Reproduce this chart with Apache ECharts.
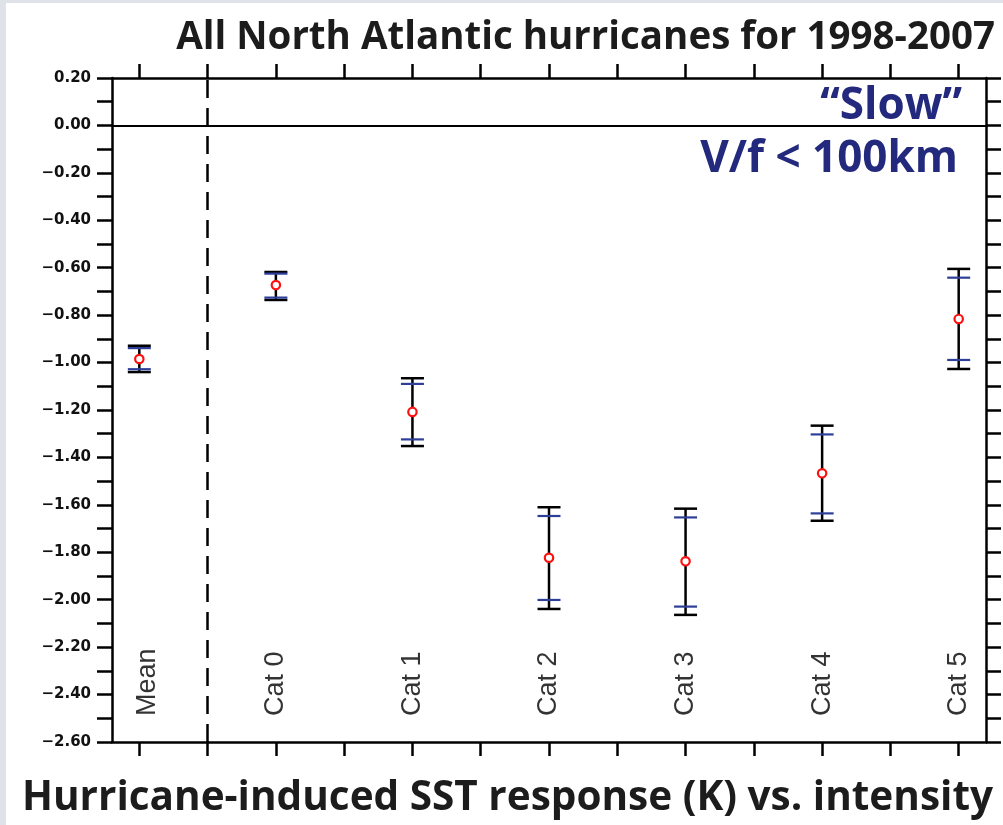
<!DOCTYPE html>
<html>
<head>
<meta charset="utf-8">
<script src="https://cdn.jsdelivr.net/npm/echarts@6/dist/echarts.min.js"></script>
<style>
  html, body { margin: 0; padding: 0; background: #dfe3e9; }
  #chart { width: 1003px; height: 825px; }
</style>
</head>
<body>
<div id="chart"></div>
<script>
// ---- data ----
var categories = ['Mean', 'Cat 0', 'Cat 1', 'Cat 2', 'Cat 3', 'Cat 4', 'Cat 5'];
var xPositions = [0, 2, 4, 6, 8, 10, 12];
var meanValues = [-0.985, -0.673, -1.208, -1.823, -1.838, -1.467, -0.816];
var blackHigh  = [-0.929, -0.618, -1.066, -1.610, -1.616, -1.266, -0.605];
var blackLow   = [-1.040, -0.736, -1.352, -2.039, -2.064, -1.667, -1.027];
var blueHigh   = [-0.939, -0.625, -1.090, -1.647, -1.653, -1.303, -0.642];
var blueLow    = [-1.028, -0.726, -1.324, -2.001, -2.029, -1.636, -0.989];
var xTickValues = [0, 1, 2, 3, 4, 5, 6, 7, 8, 9, 10, 11, 12];
var yTickValues = [];
for (var k = -26; k <= 2; k++) yTickValues.push(k / 10);
var yLabelValues = [];
for (var k2 = -13; k2 <= 1; k2++) yLabelValues.push(k2 / 5);
var separatorX = 1;
var zeroY = 0;
var labelY = -2.49;

var titleText = 'All North Atlantic hurricanes for 1998-2007';
var subtitleText = 'Hurricane-induced SST response (K) vs. intensity';
var noteText1 = '\u201CSlow\u201D';
var noteText2 = 'V/f < 100km';

var chart = echarts.init(document.getElementById('chart'), null, { renderer: 'canvas' });

var axisLineStyle = { color: '#000', width: 2.5 };

function fmtY(v) {
  var s = Math.abs(v).toFixed(2);
  if (v < -0.0001) return '\u2212' + s;
  return s;
}

var errData = xPositions.map(function (x, i) {
  return [x, meanValues[i], blackHigh[i], blackLow[i], blueHigh[i], blueLow[i]];
});

var option = {
  backgroundColor: 'transparent',
  animation: false,
  graphic: [
    { type: 'rect', z: -10, shape: { x: 6, y: 3, width: 1003, height: 830 }, style: { fill: '#ffffff' } },
    { type: 'text', z: 10, x: 995, y: 58,
      style: { text: titleText, textAlign: 'right', textVerticalAlign: 'bottom',
               font: 'bold 38.5px "Open Sans"', fill: '#1c1c1c' } },
    { type: 'text', z: 10, x: 993, y: 819,
      style: { text: subtitleText, textAlign: 'right', textVerticalAlign: 'bottom',
               font: 'bold 40.5px "Open Sans"', fill: '#1c1c1c' } },
    { type: 'text', z: 10, x: 962, y: 128,
      style: { text: noteText1, textAlign: 'right', textVerticalAlign: 'bottom',
               font: 'bold 44px "Open Sans"', fill: '#23297c' } },
    { type: 'text', z: 10, x: 958, y: 181,
      style: { text: noteText2, textAlign: 'right', textVerticalAlign: 'bottom',
               font: 'bold 44px "Open Sans"', fill: '#23297c' } }
  ],
  grid: { left: 112, right: 17, top: 78, bottom: 83, containLabel: false },
  xAxis: [
    { type: 'value', position: 'bottom', min: -0.4, max: 12.4,
      axisLine: { show: true, onZero: false, lineStyle: axisLineStyle },
      axisTick: { show: true, inside: false, length: 14, customValues: xTickValues, lineStyle: axisLineStyle },
      axisLabel: { show: false }, splitLine: { show: false } },
    { type: 'value', position: 'top', min: -0.4, max: 12.4,
      axisLine: { show: true, onZero: false, lineStyle: axisLineStyle },
      axisTick: { show: true, inside: false, length: 14, customValues: xTickValues, lineStyle: axisLineStyle },
      axisLabel: { show: false }, splitLine: { show: false } }
  ],
  yAxis: [
    { type: 'value', position: 'left', min: -2.6, max: 0.2,
      axisLine: { show: true, onZero: false, lineStyle: axisLineStyle },
      axisTick: { show: true, inside: false, length: 15, customValues: yTickValues, lineStyle: axisLineStyle },
      axisLabel: { show: true, customValues: yLabelValues, formatter: fmtY, margin: 21,
                   fontFamily: 'DejaVu Sans', fontWeight: 'bold', fontSize: 15, color: '#111' },
      splitLine: { show: false } },
    { type: 'value', position: 'right', min: -2.6, max: 0.2,
      axisLine: { show: true, onZero: false, lineStyle: axisLineStyle },
      axisTick: { show: true, inside: false, length: 15, customValues: yTickValues, lineStyle: axisLineStyle },
      axisLabel: { show: false }, splitLine: { show: false } }
  ],
  series: [
    {
      type: 'line', data: [], silent: true,
      markLine: {
        symbol: 'none', silent: true, label: { show: false },
        data: [
          { yAxis: zeroY, lineStyle: { color: '#000', width: 2, type: 'solid' } },
          { xAxis: separatorX, lineStyle: { color: '#000', width: 2.5, type: [18, 10] } }
        ]
      }
    },
    {
      type: 'custom',
      data: errData,
      z: 5,
      renderItem: function (params, api) {
        var x = api.value(0);
        var pM = api.coord([x, api.value(1)]);
        var pBH = api.coord([x, api.value(2)]);
        var pBL = api.coord([x, api.value(3)]);
        var pUH = api.coord([x, api.value(4)]);
        var pUL = api.coord([x, api.value(5)]);
        var hw = 11.5;
        var cx = pM[0];
        var black = { stroke: '#000', lineWidth: 2.5 };
        var blue = { stroke: '#2e3f99', lineWidth: 2.2 };
        return {
          type: 'group',
          children: [
            { type: 'line', shape: { x1: cx, y1: pBH[1], x2: cx, y2: pBL[1] }, style: black },
            { type: 'line', shape: { x1: cx - hw, y1: pBH[1], x2: cx + hw, y2: pBH[1] }, style: black },
            { type: 'line', shape: { x1: cx - hw, y1: pBL[1], x2: cx + hw, y2: pBL[1] }, style: black },
            { type: 'line', shape: { x1: cx - hw, y1: pUH[1], x2: cx + hw, y2: pUH[1] }, style: blue },
            { type: 'line', shape: { x1: cx - hw, y1: pUL[1], x2: cx + hw, y2: pUL[1] }, style: blue },
            { type: 'circle', shape: { cx: cx, cy: pM[1], r: 4.2 }, style: { fill: '#fff', stroke: '#ff1010', lineWidth: 2.2 } }
          ]
        };
      }
    },
    {
      type: 'scatter',
      symbolSize: 0,
      silent: true,
      data: xPositions.map(function (x, i) {
        var item = { value: [x, labelY], name: categories[i] };
        if (i === 0) item.label = { offset: [0, 8] };
        return item;
      }),
      label: {
        show: true, position: 'inside', rotate: 90, align: 'left', verticalAlign: 'middle',
        formatter: function (p) { return p.name; },
        fontFamily: 'Liberation Sans', fontSize: 27, fontWeight: 'normal', color: '#000'
      }
    }
  ]
};
chart.setOption(option);
</script>
</body>
</html>
